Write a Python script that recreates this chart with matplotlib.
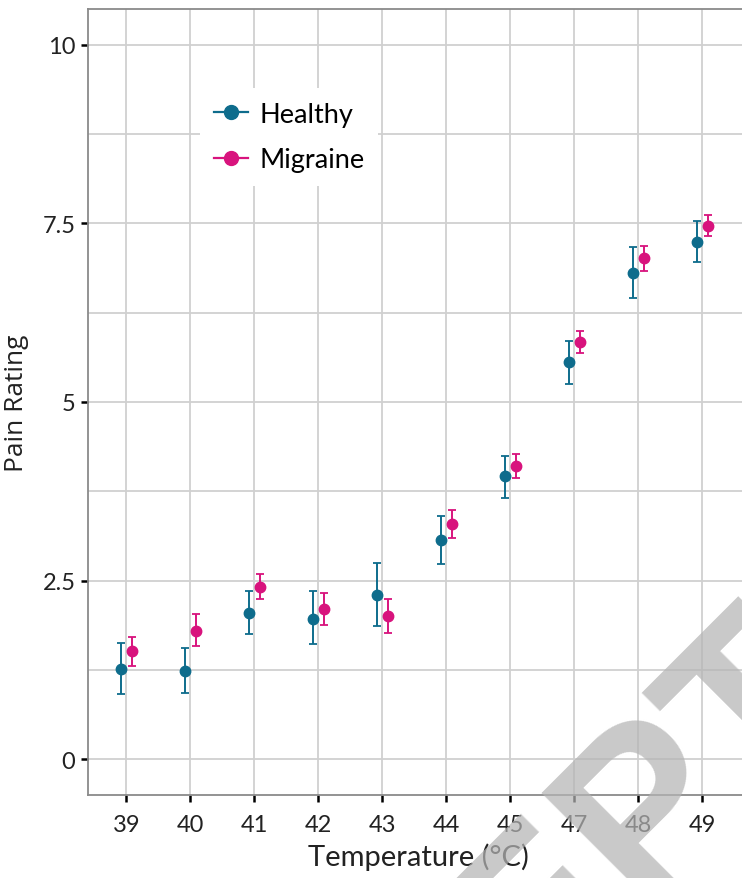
import numpy as np
import matplotlib
matplotlib.use("Agg")
import matplotlib.pyplot as plt
from matplotlib.lines import Line2D
from matplotlib.ticker import MultipleLocator

# Pain ratings per stimulus temperature (mean with lower / upper error limits)
temperatures = ["39", "40", "41", "42", "43", "44", "45", "47", "48", "49"]

healthy_mean = [1.27, 1.24, 2.05, 1.97, 2.30, 3.07, 3.96, 5.56, 6.81, 7.24]
healthy_lo = [0.92, 0.93, 1.76, 1.61, 1.86, 2.73, 3.66, 5.25, 6.46, 6.96]
healthy_hi = [1.63, 1.56, 2.35, 2.35, 2.75, 3.41, 4.25, 5.86, 7.17, 7.53]

migraine_mean = [1.51, 1.80, 2.41, 2.11, 2.01, 3.29, 4.10, 5.84, 7.01, 7.47]
migraine_lo = [1.30, 1.59, 2.25, 1.88, 1.77, 3.09, 3.93, 5.69, 6.83, 7.33]
migraine_hi = [1.71, 2.03, 2.59, 2.33, 2.25, 3.49, 4.27, 6.00, 7.19, 7.62]

group_names = ["Healthy", "Migraine"]
group_colors = ["#0E6C8C", "#D8137D"]

W, H = 742, 879
fig = plt.figure(figsize=(W / 100, H / 100), dpi=100)
fig.patch.set_facecolor("white")

# panel: left 88px, top 10px, bottom 796px; right edge runs past the canvas
ax_left, ax_top, ax_bottom, ax_w = 88, 10, 796, 660
ax = fig.add_axes([ax_left / W, (H - ax_bottom) / H, ax_w / W, (ax_bottom - ax_top) / H])

x = np.arange(len(temperatures))
dodge = 0.08
series = [
    (healthy_mean, healthy_lo, healthy_hi),
    (migraine_mean, migraine_lo, migraine_hi),
]
for i, ((mean, lo, hi), name, col) in enumerate(zip(series, group_names, group_colors)):
    mean = np.asarray(mean)
    err = [mean - np.asarray(lo), np.asarray(hi) - mean]
    offset = -dodge if i == 0 else dodge
    ax.errorbar(x + offset, mean, yerr=err, fmt="o", color=col, ms=7.5,
                elinewidth=1.4, capsize=2.6, capthick=1.3, zorder=3)

ax.set_xlim(-0.6, -0.6 + ax_w / 64)
ax.set_ylim(-0.5, 10.5)
ax.set_xticks(x)
ax.set_xticklabels(temperatures)
ax.yaxis.set_major_locator(MultipleLocator(2.5))
ax.yaxis.set_minor_locator(MultipleLocator(1.25))
ax.set_yticks([0, 2.5, 5, 7.5, 10])
ax.set_yticklabels(["0", "2.5", "5", "7.5", "10"])

grid_col = "#D0D0D0"
ax.grid(True, which="major", color=grid_col, lw=1.3)
ax.grid(True, which="minor", axis="y", color=grid_col, lw=1.3)
ax.set_axisbelow(True)

for s in ax.spines.values():
    s.set_color("#8A8A8A")
    s.set_linewidth(1.3)

tick_font = "Lato"
ax.tick_params(axis="both", which="major", length=5, width=1.8, color="black",
               labelsize=17, labelcolor="#222222", pad=4)
ax.tick_params(axis="y", which="minor", length=0)
for lab in ax.get_xticklabels() + ax.get_yticklabels():
    lab.set_fontfamily(tick_font)
ax.tick_params(axis="x", pad=9)

ax.set_xlabel("Temperature (°C)", fontsize=21, family="Lato", color="#222222", labelpad=5)
ax.set_ylabel("Pain Rating", fontsize=19, family="Open Sans", color="#222222", labelpad=10)

handles = [Line2D([0], [0], color=c, marker="o", ms=10, lw=1.6) for c in group_colors]
leg = ax.legend(handles, group_names, loc="upper left", bbox_to_anchor=(0.170, 0.899),
                borderaxespad=0, frameon=True, facecolor="white", edgecolor="none",
                framealpha=1, prop={"family": "Lato", "size": 19.5}, handlelength=1.25,
                handletextpad=0.45, labelspacing=0.75, borderpad=0.5, fancybox=False)

# diagonal watermark stamped over the page
fig.text(180 / W, (H - 1382) / H, "ACCEPTED MANUSCRIPT", rotation=45,
         rotation_mode="anchor", ha="left", va="baseline",
         fontsize=167, family="Liberation Sans", weight="bold",
         color="#B4B4B4", alpha=0.72, zorder=10)

fig.savefig("out.png", dpi=100)
